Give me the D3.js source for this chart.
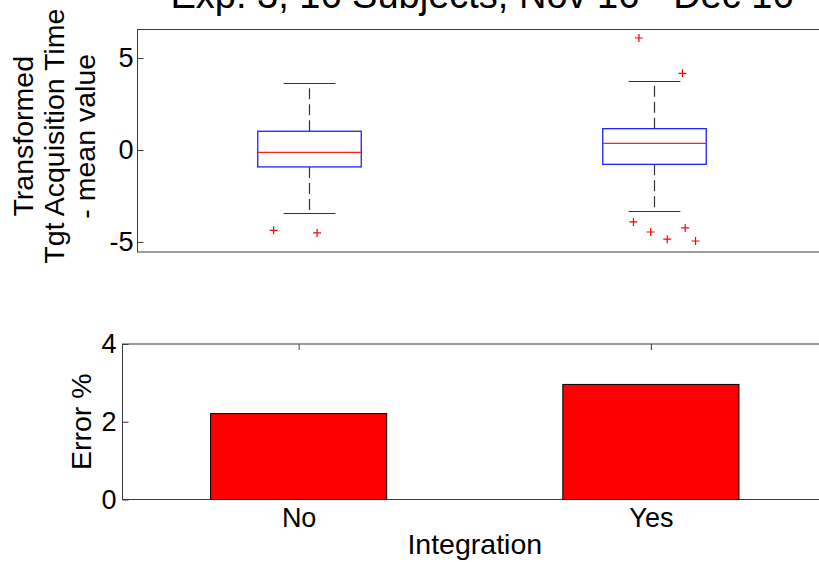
<!DOCTYPE html>
<html>
<head>
<meta charset="utf-8">
<script src="https://cdn.jsdelivr.net/npm/d3@7"></script>
<style>
  html, body { margin: 0; padding: 0; background: #fff; }
  svg { display: block; font-family: "Liberation Sans", Arial, sans-serif; }
</style>
</head>
<body>
<svg id="chart" width="819" height="562"></svg>
<script>
// Groups (x categories shared by both panels)
const categories = ["No", "Yes"];

// Box plot statistics of transformed target acquisition time minus mean
const whiskerLow  = [-3.44, -3.33];
const quartile1   = [-0.92, -0.78];
const medians     = [-0.13,  0.36];
const quartile3   = [ 1.02,  1.16];
const whiskerHigh = [ 3.62,  3.73];

// Outliers per group: values and horizontal jitter (in category units)
const outlierValues = [
  [-4.37, -4.51],
  [6.09, 4.17, -3.91, -4.46, -4.85, -4.24, -4.95]
];
const outlierJitter = [
  [-0.104, 0.022],
  [-0.045, 0.081, -0.061, -0.011, 0.037, 0.089, 0.119]
];

// Error rate per group (%)
const errorPct = [2.21, 2.96];

// Tick values
const boxTicks = [-5, 0, 5];
const errTicks = [0, 2, 4];

const svg = d3.select("#chart");
svg.append("rect").attr("width", 819).attr("height", 562).attr("fill", "#fff");

const axisColor = "#3a3a3a";
const tickFont = 27;
const labelFont = 28.5;

// ---------- upper panel: box plot ----------
const boxArea = { left: 137, right: 827, top: 29, bottom: 251.5 };
const xBox = d3.scaleLinear().domain([0.5, 2.5]).range([boxArea.left, boxArea.right]);
const yBox = d3.scaleLinear().domain([-5.52, 6.58]).range([boxArea.bottom, boxArea.top]);

const gBox = svg.append("g");

// frame
gBox.append("rect")
  .attr("x", boxArea.left + 0.5).attr("y", boxArea.top + 0.5)
  .attr("width", boxArea.right - boxArea.left).attr("height", boxArea.bottom - boxArea.top)
  .attr("fill", "none").attr("stroke", axisColor).attr("stroke-width", 1);

const yAxisBox = d3.axisLeft(yBox).tickValues(boxTicks).tickSize(-6).tickPadding(4)
  .tickFormat(d3.format("d"));
gBox.append("g").attr("transform", `translate(${boxArea.left + 0.5},0)`).call(yAxisBox)
  .call(g => g.select(".domain").remove())
  .call(g => g.selectAll("line").attr("stroke", axisColor))
  .call(g => g.selectAll("text").attr("font-size", tickFont).attr("fill", "#000")
    .text(d => d < 0 ? "-" + Math.abs(d) : d));

const boxW = 0.30, capW = 0.15;
categories.forEach((c, i) => {
  const xc = xBox(i + 1);
  const g = gBox.append("g");
  // dashed whiskers
  g.append("line").attr("x1", xc).attr("x2", xc)
    .attr("y1", yBox(quartile3[i])).attr("y2", yBox(whiskerHigh[i]))
    .attr("stroke", "#333").attr("stroke-width", 1.2).attr("stroke-dasharray", "11,5");
  g.append("line").attr("x1", xc).attr("x2", xc)
    .attr("y1", yBox(quartile1[i])).attr("y2", yBox(whiskerLow[i]))
    .attr("stroke", "#333").attr("stroke-width", 1.2).attr("stroke-dasharray", "11,5");
  // whisker caps
  [whiskerHigh[i], whiskerLow[i]].forEach(v => {
    g.append("line")
      .attr("x1", xBox(i + 1 - capW / 2)).attr("x2", xBox(i + 1 + capW / 2))
      .attr("y1", Math.round(yBox(v)) + 0.5).attr("y2", Math.round(yBox(v)) + 0.5)
      .attr("stroke", "#333").attr("stroke-width", 1.2);
  });
  // box
  g.append("rect")
    .attr("x", xBox(i + 1 - boxW / 2)).attr("y", yBox(quartile3[i]))
    .attr("width", xBox(i + 1 + boxW / 2) - xBox(i + 1 - boxW / 2))
    .attr("height", yBox(quartile1[i]) - yBox(quartile3[i]))
    .attr("fill", "none").attr("stroke", "#2020ff").attr("stroke-width", 1.3);
  // median
  g.append("line")
    .attr("x1", xBox(i + 1 - boxW / 2)).attr("x2", xBox(i + 1 + boxW / 2))
    .attr("y1", yBox(medians[i])).attr("y2", yBox(medians[i]))
    .attr("stroke", "#ff2020").attr("stroke-width", 1.3);
  // outliers as '+' markers
  outlierValues[i].forEach((v, k) => {
    const ox = xBox(i + 1 + outlierJitter[i][k]);
    const oy = yBox(v);
    g.append("path")
      .attr("d", `M${ox - 4},${oy}H${ox + 4}M${ox},${oy - 4}V${oy + 4}`)
      .attr("stroke", "#ff0000").attr("stroke-width", 1.2).attr("fill", "none");
  });
});

// title (partly above the page edge)
svg.append("text")
  .attr("x", (boxArea.left + boxArea.right) / 2).attr("y", 8)
  .attr("text-anchor", "middle").attr("font-size", 38).attr("fill", "#000")
  .text("Exp. 3, 16 Subjects, Nov 16 - Dec 16");

// y label of upper panel (three lines)
const boxLabel = ["Transformed", "Tgt Acquisition Time", "- mean value"];
const yMidBox = (boxArea.top + boxArea.bottom) / 2;
boxLabel.forEach((line, k) => {
  svg.append("text")
    .attr("transform", `translate(${33 + k * 31},${yMidBox - 4}) rotate(-90)`)
    .attr("text-anchor", "middle").attr("font-size", labelFont).attr("fill", "#000")
    .text(line);
});

// ---------- lower panel: error bars ----------
const barArea = { left: 122.5, right: 827, top: 344, bottom: 499.5 };
const xBar = d3.scaleLinear().domain([0.5, 2.5]).range([barArea.left, barArea.right]);
const yBar = d3.scaleLinear().domain([0, 4]).range([barArea.bottom, barArea.top]);
const gBar = svg.append("g");

gBar.append("rect")
  .attr("x", barArea.left).attr("y", barArea.top)
  .attr("width", barArea.right - barArea.left).attr("height", barArea.bottom - barArea.top)
  .attr("fill", "none").attr("stroke", axisColor).attr("stroke-width", 1);

const yAxisBar = d3.axisLeft(yBar).tickValues(errTicks).tickSize(-6).tickPadding(6)
  .tickFormat(d3.format("d"));
gBar.append("g").attr("transform", `translate(${barArea.left},0)`).call(yAxisBar)
  .call(g => g.select(".domain").remove())
  .call(g => g.selectAll("line").attr("stroke", axisColor))
  .call(g => g.selectAll("text").attr("font-size", tickFont).attr("fill", "#000"));

// x ticks on top and bottom edges, labels below
const xAxisBar = d3.axisBottom(xBar).tickValues([1, 2]).tickSize(-6).tickPadding(8)
  .tickFormat(d => categories[d - 1]);
gBar.append("g").attr("transform", `translate(0,${barArea.bottom})`).call(xAxisBar)
  .call(g => g.select(".domain").remove())
  .call(g => g.selectAll("line").attr("stroke", axisColor))
  .call(g => g.selectAll("text").attr("font-size", tickFont).attr("fill", "#000"));
const xAxisBarTop = d3.axisTop(xBar).tickValues([1, 2]).tickSize(-6).tickFormat("");
gBar.append("g").attr("transform", `translate(0,${barArea.top})`).call(xAxisBarTop)
  .call(g => g.select(".domain").remove())
  .call(g => g.selectAll("line").attr("stroke", axisColor));

const barW = 0.5;
gBar.selectAll("rect.bar").data(errorPct).join("rect")
  .attr("class", "bar")
  .attr("x", (d, i) => xBar(i + 1 - barW / 2))
  .attr("width", (d, i) => xBar(i + 1 + barW / 2) - xBar(i + 1 - barW / 2))
  .attr("y", d => yBar(d))
  .attr("height", d => yBar(0) - yBar(d))
  .attr("fill", "#ff0000").attr("stroke", "#000").attr("stroke-width", 1);

// lower panel axis labels
svg.append("text")
  .attr("transform", `translate(91,${(barArea.top + barArea.bottom) / 2}) rotate(-90)`)
  .attr("text-anchor", "middle").attr("font-size", labelFont).attr("fill", "#000")
  .text("Error %");
svg.append("text")
  .attr("x", (barArea.left + barArea.right) / 2).attr("y", 554)
  .attr("text-anchor", "middle").attr("font-size", labelFont).attr("fill", "#000")
  .text("Integration");
</script>
</body>
</html>
